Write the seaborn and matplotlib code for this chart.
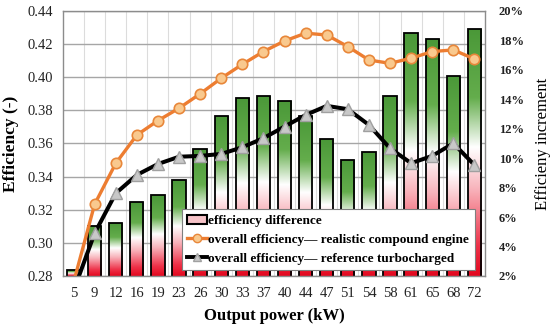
import numpy as np
import matplotlib
matplotlib.use("Agg")
import matplotlib.pyplot as plt
import seaborn as sns
from matplotlib.colors import LinearSegmentedColormap
from matplotlib.lines import Line2D
from matplotlib.patches import Patch
from matplotlib.ticker import FuncFormatter, MultipleLocator

# ---------------- data ----------------
power = ["5", "9", "12", "16", "19", "23", "26", "30", "33", "37",
         "40", "44", "47", "51", "54", "58", "61", "65", "68", "72"]
eff_diff = [2.4, 5.4, 5.6, 7.0, 7.5, 8.5, 10.6, 12.9, 14.1, 14.25,
            13.9, 12.9, 11.3, 9.9, 10.45, 14.2, 18.5, 18.1, 15.6, 18.8]
eff_compound = [0.276, 0.3233, 0.348, 0.3651, 0.3738, 0.3813, 0.3900, 0.3994,
                0.4078, 0.4155, 0.4219, 0.4266, 0.4255, 0.4185, 0.4104, 0.4084,
                0.4115, 0.4155, 0.4165, 0.4110]
eff_turbo = [0.271, 0.3058, 0.3299, 0.3410, 0.3476, 0.3520, 0.3525, 0.3537,
             0.3577, 0.3632, 0.3702, 0.3772, 0.3827, 0.3807, 0.3712, 0.3571,
             0.3481, 0.3525, 0.3601, 0.3470]
left_ticks = [0.28, 0.30, 0.32, 0.34, 0.36, 0.38, 0.40, 0.42, 0.44]

labels = ["efficiency difference",
          "overall efficiency\u2014 realistic compound engine",
          "overall efficiency\u2014 reference turbocharged"]

plt.rcParams["font.family"] = ["Liberation Serif", "DejaVu Serif"]

fig = plt.figure(figsize=(5.5, 3.26), dpi=100)
ax = fig.add_axes([0.1145, 0.1534, 0.7673, 0.8129])
ax2 = ax.twinx()

# ---------------- bars (right axis) ----------------
sns.barplot(x=power, y=eff_diff, order=power, ax=ax2, width=0.63,
            color="white", saturation=1, edgecolor="black", linewidth=1.3)

cmap = LinearSegmentedColormap.from_list(
    "grad", [(0.0, "#e3081f"), (0.12, "#ee3148"), (0.35, "#f8b3bb"),
             (0.52, "#ffffff"), (0.72, "#64ad4c"), (1.0, "#4a9838")])
grad = np.linspace(0, 1, 256).reshape(-1, 1)
for p in list(ax2.patches):
    x0, w, h = p.get_x(), p.get_width(), p.get_height()
    im = ax2.imshow(grad, extent=[x0, x0 + w, 2, h], aspect="auto", cmap=cmap,
                    origin="lower", zorder=2, interpolation="bilinear")
    im.set_clip_path(p)
    p.set_facecolor("none")
    p.set_zorder(3)

ax2.set_xlim(-0.5, len(power) - 0.5)
ax2.set_ylim(2, 20)

# gridlines behind bars
for yv in left_ticks:
    ax2.plot([0, 1], [yv, yv], transform=ax.get_yaxis_transform(),
             color="#a6a6a6", lw=1.0, zorder=0.5)
for k in range(1, len(power)):
    ax2.axvline(k - 0.5, color="#dcdcdc", lw=0.8, zorder=0.4)

# ---------------- lines (left axis) ----------------
ax.set_zorder(ax2.get_zorder() + 1)
ax.patch.set_visible(False)
xpos = np.arange(len(power))
sns.lineplot(x=xpos, y=eff_compound, ax=ax, color="#ED7D31", lw=2.4,
             marker="o", markersize=7.5, markerfacecolor="#F9C98E",
             markeredgecolor="#E8873A", markeredgewidth=1.2, sort=False)
sns.lineplot(x=xpos, y=eff_turbo, ax=ax, color="black", lw=2.9,
             marker="^", markersize=8, markerfacecolor="#c8c8c8",
             markeredgecolor="#a0a0a0", markeredgewidth=1.0, sort=False)

ax.set_xlim(-0.5, len(power) - 0.5)
ax.set_ylim(0.28, 0.44)
ax.set_yticks(left_ticks)
ax.yaxis.set_major_formatter(FuncFormatter(lambda v, _: f"{v:.2f}"))
ax.set_xticks(xpos)
ax.set_xticklabels(power)
ax.tick_params(axis="both", length=0, labelsize=10.5, colors="#222222")
ax.tick_params(axis="y", pad=7)
ax.tick_params(axis="x", pad=8)

ax2.yaxis.set_major_locator(MultipleLocator(2))
ax2.yaxis.set_major_formatter(FuncFormatter(lambda v, _: f"{v:.0f}%"))
ax2.tick_params(axis="y", length=0, labelsize=9, pad=10, colors="#222222")
for t in ax2.get_yticklabels():
    t.set_fontweight("bold")

for s in ax.spines.values():
    s.set_color("#8c8c8c")
    s.set_linewidth(1.0)
for s in ax2.spines.values():
    s.set_visible(False)

ax.set_xlabel("Output power (kW)", fontsize=12, fontweight="bold", labelpad=6)
ax.set_ylabel("Efficiency (-)", fontsize=12.5, fontweight="bold", labelpad=6)
ax2.set_ylabel("Efficieny increment", fontsize=12, labelpad=8)

# ---------------- legend ----------------
handles = [
    Patch(facecolor="#f6c3c8", edgecolor="black", linewidth=1.5),
    Line2D([], [], color="#ED7D31", lw=2.4, marker="o", markersize=6,
           markerfacecolor="#F9C98E", markeredgecolor="#E8873A"),
    Line2D([], [], color="black", lw=2.8, marker="^", markersize=6,
           markerfacecolor="#c8c8c8", markeredgecolor="#a0a0a0"),
]
leg = ax.legend(handles, labels, loc="lower left", bbox_to_anchor=(0.282, 0.023),
                frameon=True, fancybox=False, framealpha=1, edgecolor="#7f7f7f",
                prop={"size": 9.5, "weight": "bold"}, handlelength=1.5,
                handletextpad=0.1, labelspacing=0.5, borderpad=0.4,
                borderaxespad=0, numpoints=1)
leg.get_frame().set_linewidth(0.8)
leg.set_zorder(10)

fig.savefig("out.png", dpi=100)
